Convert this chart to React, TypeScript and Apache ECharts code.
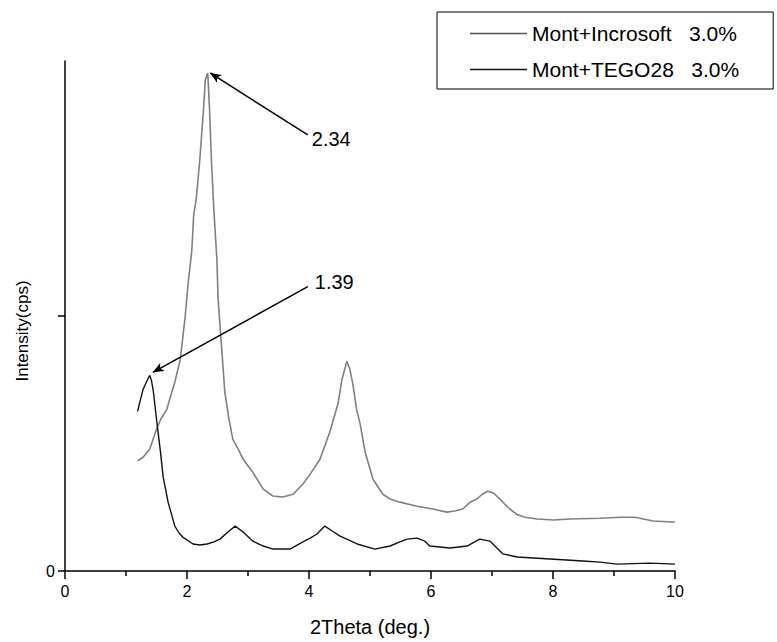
import React, { useEffect, useRef } from 'react';
import * as echarts from 'echarts';

// Mont+Incrosoft 3.0% (grey)
const incrosoftX = [1.19, 1.28, 1.39, 1.5, 1.57, 1.67, 1.74, 1.8, 1.89, 1.97, 2.02, 2.08, 2.11, 2.15, 2.21, 2.27, 2.3, 2.34, 2.37, 2.4, 2.44, 2.49, 2.51, 2.57, 2.62, 2.68, 2.75, 2.84, 2.92, 2.98, 3.08, 3.25, 3.41, 3.57, 3.74, 3.9, 4.02, 4.18, 4.34, 4.48, 4.54, 4.62, 4.67, 4.72, 4.78, 4.84, 4.92, 5.05, 5.21, 5.33, 5.49, 5.77, 6.03, 6.26, 6.39, 6.52, 6.64, 6.75, 6.84, 6.93, 7.03, 7.13, 7.26, 7.4, 7.54, 7.74, 8.0, 8.28, 8.77, 9.1, 9.34, 9.64, 9.95, 10.0];
const incrosoftY = [432, 446, 478, 556, 595, 634, 693, 740, 830, 998, 1131, 1260, 1397, 1456, 1613, 1808, 1926, 1953, 1808, 1613, 1417, 1221, 1065, 869, 701, 607, 517, 478, 438, 419, 387, 321, 294, 290, 301, 341, 380, 438, 544, 661, 751, 822, 791, 732, 634, 575, 466, 360, 301, 282, 270, 254, 243, 231, 235, 243, 270, 282, 301, 313, 305, 282, 250, 223, 211, 204, 200, 204, 207, 211, 211, 196, 192, 192];

// Mont+TEGO28 3.0% (black)
const tegoX = [1.19, 1.23, 1.28, 1.34, 1.39, 1.42, 1.45, 1.5, 1.56, 1.61, 1.69, 1.75, 1.8, 1.87, 1.93, 2.1, 2.21, 2.33, 2.44, 2.54, 2.67, 2.79, 2.92, 3.08, 3.25, 3.41, 3.69, 3.9, 4.02, 4.13, 4.26, 4.38, 4.51, 4.79, 5.08, 5.33, 5.49, 5.61, 5.77, 5.9, 5.98, 6.31, 6.59, 6.8, 6.97, 7.08, 7.18, 7.41, 7.95, 8.49, 8.77, 9.05, 9.59, 10.0];
const tegoY = [626, 665, 712, 744, 767, 744, 701, 595, 478, 368, 270, 219, 176, 149, 133, 106, 102, 106, 114, 125, 153, 176, 153, 117, 98, 86, 86, 114, 129, 145, 176, 157, 137, 106, 86, 98, 114, 125, 129, 117, 98, 90, 98, 125, 117, 90, 67, 55, 47, 39, 35, 27, 31, 27];

const seriesNames = ['Mont+Incrosoft   3.0%', 'Mont+TEGO28   3.0%'];
const seriesColors = ['#808080', '#111111'];
const xTickLabels = ['0', '2', '4', '6', '8', '10'];
const yTickLabels = ['0'];

// annotations: peak labels, arrow tails and tips in data units
const peakLabels = ['2.34', '1.39'];
const arrowTails = [[3.98, 1710], [3.98, 1115]];
const arrowTips = [[2.38, 1953], [1.44, 779]];

const FONT = '"Liberation Sans", Arial, Helvetica, sans-serif';

export default function App() {
  const ref = useRef<HTMLDivElement>(null);
  useEffect(() => {
    if (!ref.current) return;
    const chart = echarts.init(ref.current, null, { renderer: 'svg' });
    const mkData = (xs: number[], ys: number[]) => xs.map((x, i) => [x, ys[i]]);
    const series: any[] = [incrosoftX, tegoX].map((xs, si) => ({
      name: seriesNames[si],
      type: 'line',
      data: mkData(xs, si === 0 ? incrosoftY : tegoY),
      symbol: 'none',
      showSymbol: false,
      lineStyle: { color: seriesColors[si], width: si === 0 ? 1.6 : 1.4 },
      itemStyle: { color: seriesColors[si] },
      z: si === 0 ? 2 : 3,
      markLine: {
        silent: true,
        symbol: ['none', 'arrow'],
        symbolSize: [7, 11],
        label: { show: false },
        lineStyle: { color: '#000', width: 1.5, type: 'solid' },
        data: [[{ coord: arrowTails[si] }, { coord: arrowTips[si] }]],
      },
    }));
    chart.setOption({
      animation: false,
      textStyle: { fontFamily: FONT, color: '#000' },
      grid: { left: 65, right: 102, top: 61, bottom: 70, containLabel: false },
      legend: {
        left: 437,
        top: 12,
        orient: 'vertical',
        data: seriesNames.map((n, i) => ({ name: n, itemStyle: { color: i === 0 ? '#555' : '#111' } })),
        icon: 'rect',
        itemWidth: 57,
        itemHeight: 1.3,
        itemGap: 15,
        padding: [11, 34, 9, 33],
        borderColor: '#000',
        borderWidth: 1,
        textStyle: { fontFamily: FONT, fontSize: 21, color: '#000' },
      },
      xAxis: {
        type: 'value',
        min: 0,
        max: 10,
        interval: 2,
        name: '2Theta (deg.)',
        nameLocation: 'middle',
        nameGap: 46,
        nameTextStyle: { fontFamily: FONT, fontSize: 20, color: '#000' },
        axisLine: { onZero: false, lineStyle: { color: '#000', width: 1.5 } },
        axisTick: { show: true, length: 8, lineStyle: { color: '#000', width: 1.5 } },
        minorTick: { show: true, splitNumber: 2, length: 5, lineStyle: { color: '#000', width: 1.5 } },
        axisLabel: {
          fontFamily: FONT, fontSize: 16, color: '#000', margin: 12,
          formatter: (v: number) => (xTickLabels.includes(String(v)) ? String(v) : ''),
        },
        splitLine: { show: false },
      },
      yAxis: {
        type: 'value',
        min: 0,
        max: 2000,
        interval: 1000,
        name: 'Intensity(cps)',
        nameLocation: 'middle',
        nameGap: 34,
        nameRotate: 90,
        nameTextStyle: { fontFamily: FONT, fontSize: 17, color: '#000', padding: [0, 30, 0, 0] },
        axisLine: { show: true, onZero: false, lineStyle: { color: '#000', width: 1.5 } },
        axisTick: { show: true, length: 7, customValues: [0, 1000], lineStyle: { color: '#000', width: 1.5 } },
        axisLabel: {
          fontFamily: FONT, fontSize: 16, color: '#000', margin: 10,
          customValues: [0],
          formatter: (v: number) => (yTickLabels.includes(String(v)) ? String(v) : ''),
        },
        splitLine: { show: false },
      },
      series,
    });
    const offsets = [[4, 4], [7, -5]];
    const graphics = peakLabels.map((t, i) => {
      const p = chart.convertToPixel({ gridIndex: 0 }, arrowTails[i]) as number[];
      return {
        type: 'text',
        x: p[0] + offsets[i][0],
        y: p[1] + offsets[i][1],
        style: { text: t, fontFamily: FONT, fontSize: 20, fill: '#000', verticalAlign: 'middle', align: 'left' },
        z: 10,
      };
    });
    chart.setOption({ graphic: graphics });
    return () => chart.dispose();
  }, []);
  return <div ref={ref} style={{ width: 777, height: 642, position: 'absolute', left: 0, top: 0 }} />;
}
